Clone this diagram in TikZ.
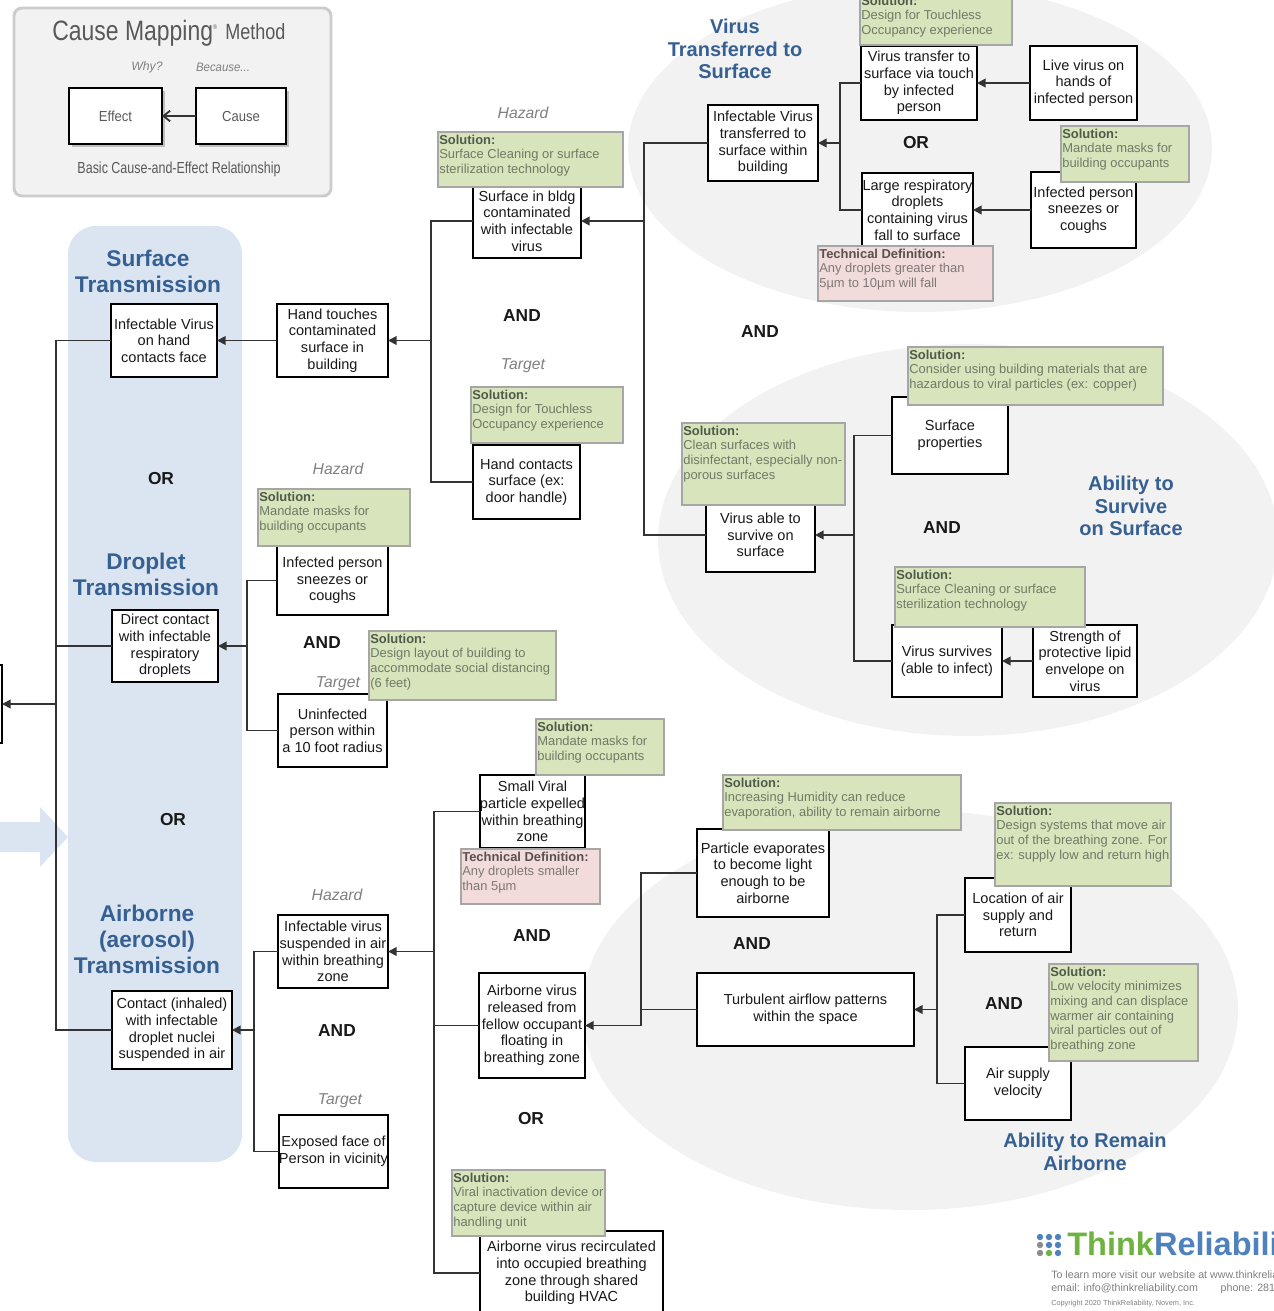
\documentclass[tikz,border=0pt]{standalone}
\usepackage{fontspec}
\setmainfont{Liberation Sans}
\usetikzlibrary{arrows.meta,calc}
\definecolor{panelblue}{HTML}{DBE5F1}
\definecolor{elgray}{HTML}{F2F2F2}
\definecolor{titleblue}{HTML}{366092}
\definecolor{solfill}{HTML}{D7E4BC}
\definecolor{solline}{HTML}{A6A6A6}
\definecolor{soltxt}{HTML}{707A66}
\definecolor{solhead}{HTML}{505A48}
\definecolor{techfill}{HTML}{F2DCDB}
\definecolor{techtxt}{HTML}{7F7777}
\definecolor{techhead}{HTML}{595050}
\definecolor{linegray}{HTML}{333333}
\definecolor{legtxt}{HTML}{595959}
\definecolor{logogreen}{HTML}{6DB33F}
\definecolor{logoblue}{HTML}{4F81BD}
\definecolor{logogray}{HTML}{8C8C8C}
\tikzset{
 cbox/.style={draw=black,line width=1.5pt,fill=white,align=center,inner sep=0pt,outer sep=0pt,
   font=\fontsize{10.9}{12.5}\selectfont,text=black!90},
 notebox/.style={anchor=north west,inner xsep=1pt,inner ysep=2pt,outer sep=0pt,line width=1pt,
   font=\fontsize{9.7}{11}\selectfont},
 solbox/.style={notebox,draw=solline,fill=solfill,text=soltxt},
 techbox/.style={notebox,draw=solline,fill=techfill,text=techtxt},
 conn/.style={draw=linegray,line width=1.4pt},
 arr/.style={conn,-{Triangle[length=6.5pt,width=6.5pt]}},
 titletxt/.style={align=center,text=titleblue,font=\fontsize{17}{19.5}\selectfont\bfseries},
 smalltitle/.style={align=center,text=titleblue,font=\fontsize{15}{17}\selectfont\bfseries},
 optxt/.style={font=\fontsize{13}{15}\selectfont\bfseries,text=black!90},
 hztxt/.style={font=\fontsize{11.8}{13}\selectfont\itshape,text=black!50},
 leghz/.style={font=\fontsize{9.2}{11}\selectfont\itshape,text=black!50},
 leglabel/.style={text=legtxt}
}
\newcommand\bx[6]{%
 \pgfmathsetmacro\bw{(#4-#2)*0.75}\pgfmathsetmacro\bh{(#5-#3)*0.75}%
 \node[cbox,minimum width=\bw pt,minimum height=\bh pt] (#1) at ({(#2+#4)/2},{(#3+#5)/2}) {#6};}
\newcommand\notebody[3]{\parbox[t][\dimexpr#2pt-4pt\relax][t]{\dimexpr#1pt-2pt\relax}{\raggedright #3}}
\newcommand\sol[6]{%
 \pgfmathsetmacro\bw{(#4-#2)*0.75}\pgfmathsetmacro\bh{(#5-#3)*0.75}%
 \node[solbox] (#1) at (#2,#3) {\notebody{\bw}{\bh}{{\color{solhead}\textbf{Solution:}}\\#6}};}
\newcommand\tech[6]{%
 \pgfmathsetmacro\bw{(#4-#2)*0.75}\pgfmathsetmacro\bh{(#5-#3)*0.75}%
 \node[techbox] (#1) at (#2,#3) {\notebody{\bw}{\bh}{{\color{techhead}\textbf{Technical Definition:}}\\#6}};}
\begin{document}
\begin{tikzpicture}[x=0.75pt,y=-0.75pt]
\clip (0,0) rectangle (1274,1311);
% ellipses
\fill[elgray] (920,148) ellipse [x radius=292,y radius=164];
\fill[elgray] (968,540) ellipse [x radius=310,y radius=196];
\fill[elgray] (910,1010) ellipse [x radius=328,y radius=200];
% blue panel and arrow
\fill[panelblue] (0,822) -- (40,822) -- (40,807) -- (68,837) -- (40,867) -- (40,852) -- (0,852) -- cycle;
\fill[panelblue,rounded corners=21pt] (68,226) rectangle (242,1162);
% legend
\draw[draw=black!20,fill=elgray,line width=2.2pt,rounded corners=6pt] (14,8) rectangle (331,196);
\node[leglabel,anchor=base east,inner xsep=0pt,font=\fontsize{21}{24}\selectfont] (legA) at (218,40) {\scalebox{.82}[1]{Cause Mapping\textsuperscript{\tiny ®}}};
\node[leglabel,anchor=base west,font=\fontsize{16.5}{20}\selectfont,inner xsep=0pt] (legB) at (225,39) {\scalebox{.82}[1]{Method}};
\node[leghz] (legWhy) at (147,67) {Why?};
\node[leghz] (legBec) at (223,67) {\scalebox{.93}[1]{Because...}};
\fill[black!25] (72,91) rectangle (165,147);
\fill[black!25] (199,91) rectangle (289,147);
\bx{effect}{69}{88}{162}{144}{\textcolor{legtxt}{\scalebox{.9}[1]{Effect}}}
\bx{cause}{196}{88}{286}{144}{\textcolor{legtxt}{\scalebox{.9}[1]{Cause}}}
\draw[conn,-{Straight Barb[length=5pt,width=8pt]}] (cause.west) -- (effect.east);
\node[leglabel,font=\fontsize{12}{14}\selectfont] (legC) at (179,169) {\scalebox{.78}[1]{Basic Cause-and-Effect Relationship}};
% titles
\node[titletxt] (t1) at (148,271) {Surface\\Transmission};
\node[titletxt] (t2) at (146,574) {Droplet\\Transmission};
\node[titletxt] (t3) at (147,939) {Airborne\\(aerosol)\\Transmission};
\node[smalltitle] (t4) at (735,49) {Virus\\Transferred to\\Surface};
\node[smalltitle] (t5) at (1131,506) {Ability to\\Survive\\on Surface};
\node[smalltitle] (t6) at (1085,1152) {Ability to Remain\\Airborne};
% labels
\node[optxt] (o1) at (161,479) {OR};
\node[optxt] (o2) at (173,820) {OR};
\node[optxt] (o3) at (522,316) {AND};
\node[optxt] (o4) at (322,643) {AND};
\node[optxt] (o5) at (337,1031) {AND};
\node[optxt] (o6) at (532,936) {AND};
\node[optxt] (o7) at (531,1119) {OR};
\node[optxt] (o8) at (752,944) {AND};
\node[optxt] (o9) at (1004,1004) {AND};
\node[optxt] (o10) at (760,332) {AND};
\node[optxt] (o11) at (942,528) {AND};
\node[optxt] (o12) at (916,143) {OR};
\node[hztxt] (h1) at (523,113) {Hazard};
\node[hztxt] (h2) at (523,366) {Target};
\node[hztxt] (h3) at (338,469) {Hazard};
\node[hztxt] (h4) at (338,684) {Target};
\node[hztxt] (h5) at (337,895) {Hazard};
\node[hztxt] (h6) at (340,1101) {Target};
% boxes
\bx{eff}{-20}{665}{2}{743}{}
\bx{a1}{111}{304}{217}{377}{Infectable Virus\\on hand\\contacts face}
\bx{a2}{277}{304}{388}{377}{Hand touches\\contaminated\\surface in\\building}
\bx{a3}{473}{184}{581}{258}{Surface in bldg\\contaminated\\with infectable\\virus}
\bx{a4}{473}{445}{580}{519}{Hand contacts\\surface (ex:\\door handle)}
\bx{a5}{708}{105}{818}{181}{Infectable Virus\\transferred to\\surface within\\building}
\bx{a6}{861}{46}{977}{120}{Virus transfer to\\surface via touch\\by infected\\person}
\bx{a7}{862}{173}{973}{247}{Large respiratory\\droplets\\containing virus\\fall to surface}
\bx{a8}{1030}{46}{1137}{120}{Live virus on\\hands of\\infected person}
\bx{a9}{1031}{172}{1136}{248}{Infected person\\sneezes or\\coughs}
\bx{b1}{706}{498}{815}{572}{Virus able to\\survive on\\surface}
\bx{b2}{892}{397}{1008}{474}{Surface\\properties}
\bx{b3}{892}{625}{1002}{697}{Virus survives\\(able to infect)}
\bx{b4}{1033}{625}{1137}{697}{Strength of\\protective lipid\\envelope on\\virus}
\bx{c1}{112}{610}{218}{682}{Direct contact\\with infectable\\respiratory\\droplets}
\bx{c2}{277}{546}{388}{615}{Infected person\\sneezes or\\coughs}
\bx{c3}{278}{694}{387}{767}{Uninfected\\person within\\a 10 foot radius}
\bx{d1}{112}{991}{232}{1069}{Contact (inhaled)\\with infectable\\droplet nuclei\\suspended in air}
\bx{d2}{278}{915}{388}{988}{Infectable virus\\suspended in air\\within breathing\\zone}
\bx{d3}{279}{1115}{388}{1188}{Exposed face of\\Person in vicinity}
\bx{d4}{480}{775}{585}{848}{Small Viral\\particle expelled\\within breathing\\zone}
\bx{d5}{479}{973}{585}{1078}{Airborne virus\\released from\\fellow occupant\\floating in\\breathing zone}
\bx{d6}{480}{1231}{663}{1315}{Airborne virus recirculated\\into occupied breathing\\zone through shared\\building HVAC}
\bx{d7}{697}{829}{829}{917}{Particle evaporates\\to become light\\enough to be\\airborne}
\bx{d8}{697}{973}{914}{1046}{Turbulent airflow patterns\\within the space}
\bx{d9}{965}{878}{1071}{952}{Location of air\\supply and\\return}
\bx{d10}{965}{1047}{1071}{1120}{Air supply\\velocity}
% junctions
\coordinate (jTop) at (56,0 |- eff.east);
\coordinate (jA) at (431,0 |- a2.east);
\coordinate (jB) at (644,0 |- a3.east);
\coordinate (jC) at (840,0 |- a5.east);
\coordinate (jD) at (854,0 |- b1.east);
\coordinate (jE) at (247,0 |- c1.east);
\coordinate (jF) at (254,0 |- d1.east);
\coordinate (jG) at (434,0 |- d2.east);
\coordinate (jH) at (641,0 |- d5.east);
\coordinate (jI) at (937,0 |- d8.east);
% connectors
\draw[arr] (jTop) -- (eff.east);
\draw[conn] (a1.west) -| (jTop);
\draw[conn] (c1.west) -| (jTop);
\draw[conn] (d1.west) -| (jTop);
\draw[arr] (a2.west) -- (a1.east);
\draw[arr] (jA) -- (a2.east);
\draw[conn] (a3.west) -| (jA);
\draw[conn] (a4.west) -| (jA);
\draw[arr] (jB) -- (a3.east);
\draw[conn] (a5.west) -| (jB);
\draw[conn] (b1.west) -| (jB);
\draw[arr] (jC) -- (a5.east);
\draw[conn] (a6.west) -| (jC);
\draw[conn] (a7.west) -| (jC);
\draw[arr] (a8.west) -- (a6.east);
\draw[arr] (a9.west) -- (a7.east);
\draw[arr] (jD) -- (b1.east);
\draw[conn] (b2.west) -| (jD);
\draw[conn] (b3.west) -| (jD);
\draw[arr] (b4.west) -- (b3.east);
\draw[arr] (jE) -- (c1.east);
\draw[conn] (c2.west) -| (jE);
\draw[conn] (c3.west) -| (jE);
\draw[arr] (jF) -- (d1.east);
\draw[conn] (d2.west) -| (jF);
\draw[conn] (d3.west) -| (jF);
\draw[arr] (jG) -- (d2.east);
\draw[conn] (d4.west) -| (jG);
\draw[conn] (d5.west) -| (jG);
\draw[conn] (d6.west) -| (jG);
\draw[arr] (jH) -- (d5.east);
\draw[conn] (d7.west) -| (jH);
\draw[conn] (d8.west) -| (jH);
\draw[arr] (jI) -- (d8.east);
\draw[conn] (d9.west) -| (jI);
\draw[conn] (d10.west) -| (jI);
% notes
\sol{s1}{438}{132}{623}{187}{Surface Cleaning or surface\\sterilization technology}
\sol{s2}{471}{387}{623}{443}{Design for Touchless\\Occupancy experience}
\sol{s3}{860}{-7}{1012}{45}{Design for Touchless\\Occupancy experience}
\sol{s4}{1061}{126}{1189}{182}{Mandate masks for\\building occupants}
\sol{s5}{908}{347}{1163}{405}{Consider using building materials that are\\hazardous to viral particles (ex: copper)}
\sol{s6}{682}{423}{845}{505}{Clean surfaces with\\disinfectant, especially non-\\porous surfaces}
\sol{s7}{895}{567}{1085}{627}{Surface Cleaning or surface\\sterilization technology}
\sol{s8}{258}{489}{410}{546}{Mandate masks for\\building occupants}
\sol{s9}{369}{631}{556}{700}{Design layout of building to\\accommodate social distancing\\(6 feet)}
\sol{s10}{536}{719}{664}{775}{Mandate masks for\\building occupants}
\sol{s11}{723}{775}{961}{830}{Increasing Humidity can reduce\\evaporation, ability to remain airborne}
\sol{s12}{995}{803}{1171}{886}{Design systems that move air\\out of the breathing zone. For\\ex: supply low and return high}
\sol{s13}{1049}{964}{1198}{1061}{Low velocity minimizes\\mixing and can displace\\warmer air containing\\viral particles out of\\breathing zone}
\sol{s14}{452}{1170}{605}{1236}{Viral inactivation device or\\capture device within air\\handling unit}
\tech{n1}{818}{246}{993}{301}{Any droplets greater than\\5µm to 10µm will fall}
\tech{n2}{461}{849}{600}{904}{Any droplets smaller\\than 5µm}
% logo
\foreach \dx/\dy/\dc in {1040/1237/logoblue,1049/1237/logoblue,1058/1237/logoblue,
  1040/1245/logogray,1049/1245/logoblue,1058/1245/logoblue,
  1040/1253/logogray,1049/1253/logogreen,1058/1253/logoblue}
 \fill[\dc] (\dx,\dy) circle [radius=3.2];
\node[anchor=base west,inner sep=0pt,font=\fontsize{24.4}{26}\selectfont\bfseries] (logo) at (1067,1255) {\textcolor{logogreen}{Think}\textcolor{logoblue}{Reliabili}};
\node[anchor=base west,inner sep=0pt,text=black!50,font=\fontsize{8}{10}\selectfont] (lg1) at (1051,1278) {To learn more visit our website at www.thinkrelia};
\node[anchor=base west,inner sep=0pt,text=black!50,font=\fontsize{8}{10}\selectfont] (lg2) at (1051,1291) {email: info@thinkreliability.com\hspace{17pt}phone: 281};
\node[anchor=base west,inner sep=0pt,text=black!50,font=\fontsize{5.5}{7}\selectfont] (lg3) at (1051,1305) {Copyright 2020 ThinkReliability, Novem, Inc.};
\end{tikzpicture}
\end{document}
